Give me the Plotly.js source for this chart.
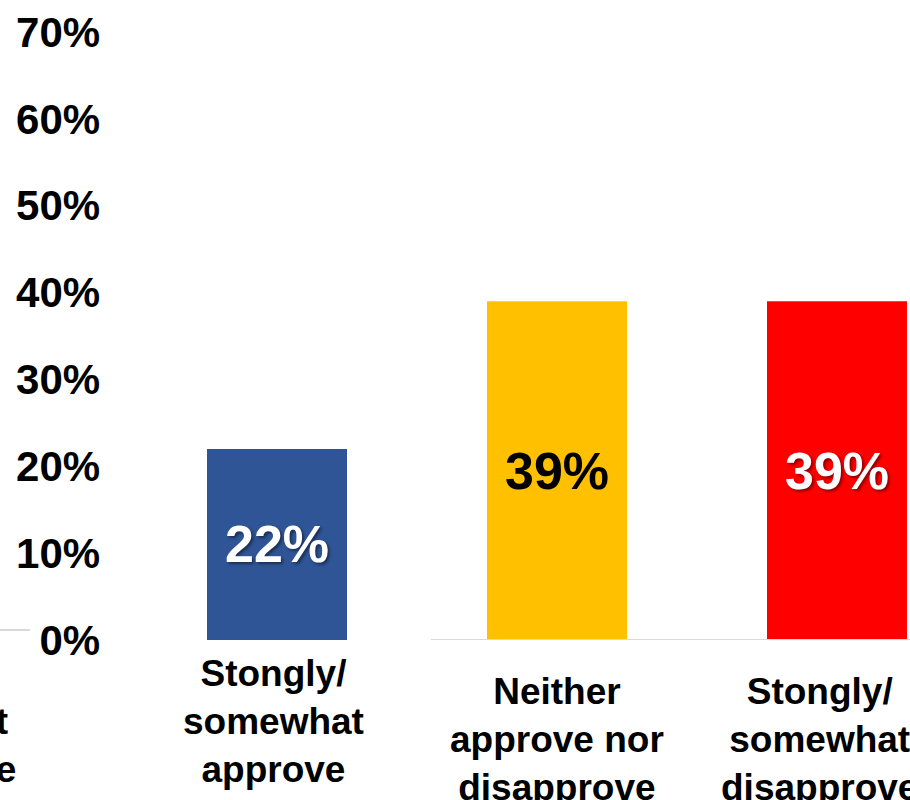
<!DOCTYPE html>
<html>
<head>
<meta charset="utf-8">
<script src="https://cdn.plot.ly/plotly-3.0.1.min.js"></script>
<style>html,body{margin:0;padding:0;background:#fff;}#chart{width:910px;height:800px;}</style>
</head>
<body>
<div id="chart"></div>
<script>
// Data
const categories = ["Stongly/<br>somewhat<br>approve", "Neither<br>approve nor<br>disapprove", "Stongly/<br>somewhat<br>disapprove"];
const values = [22, 39, 39];
const barColors = ["#2F5597", "#FFC000", "#FF0000"];
const labelColors = ["#FFFFFF", "#000000", "#FFFFFF"];
const yTickValues = [0, 10, 20, 30, 40, 50, 60, 70];
const yTickLabels = ["0%", "10%", "20%", "30%", "40%", "50%", "60%", "70%"];
const neighbourLabel = "Stongly/<br>somewhat<br>disapprove";

const FONT = "Liberation Sans, Arial, sans-serif";
const xIdx = categories.map((_, i) => i);

const trace = {
  type: "bar",
  x: xIdx,
  y: values,
  width: 0.5,
  marker: {color: barColors, line: {width: 0}},
  text: values.map(v => v + "%"),
  texttemplate: "%{text}",
  textposition: "inside",
  insidetextanchor: "middle",
  constraintext: "none",
  textangle: 0,
  textfont: {family: FONT, size: 52, weight: 700, color: labelColors,
             shadow: ["2px 2px 3px rgba(0,0,0,0.45)", "none", "2px 2px 3px rgba(0,0,0,0.45)"]},
  hoverinfo: "skip"
};

const labelXShift = [-4, 0, -18];
const labelYShift = [-11, -29, -29];
const annotations = categories.map((c, i) => ({
  x: i, y: 0, xref: "x", yref: "y",
  text: "<b>" + c + "</b>",
  showarrow: false, xanchor: "center", yanchor: "top",
  xshift: labelXShift[i], yshift: labelYShift[i],
  font: {family: FONT, size: 37, color: "#000"},
  align: "center"
}));
annotations.push({
  x: -83 / 910, y: 0, xref: "paper", yref: "y",
  text: "<b>" + neighbourLabel + "</b>",
  showarrow: false, xanchor: "center", yanchor: "top", yshift: -11,
  font: {family: FONT, size: 37, color: "#000"}, align: "center"
});

const layout = {
  width: 910, height: 800,
  margin: {l: 0, r: 0, t: 0, b: 0, pad: 0},
  paper_bgcolor: "#fff", plot_bgcolor: "rgba(0,0,0,0)",
  showlegend: false,
  bargap: 0.5,
  xaxis: {
    range: [-277 / 280, 633 / 280],
    showticklabels: false, showgrid: false, zeroline: false, showline: false, ticks: "",
    fixedrange: true
  },
  yaxis: {
    domain: [0.2, 0.96],
    range: [0, 70],
    anchor: "free", position: 0.110,
    tickvals: yTickValues, ticktext: yTickLabels,
    tickfont: {family: FONT, size: 42, weight: 700, color: "#000"},
    showgrid: false, zeroline: false, showline: false, ticks: "",
    fixedrange: true
  },
  shapes: [
    {type: "line", xref: "paper", yref: "y", x0: 431 / 910, x1: 1, y0: 0, y1: 0, yshift: 1,
     line: {color: "#D9D9D9", width: 2}},
    {type: "line", xref: "paper", yref: "paper", x0: 0, x1: 30 / 910, y0: 170 / 800, y1: 170 / 800,
     line: {color: "#D9D9D9", width: 2}}
  ],
  annotations: annotations
};

Plotly.newPlot("chart", [trace], layout, {displayModeBar: false, staticPlot: true});
</script>
</body>
</html>
